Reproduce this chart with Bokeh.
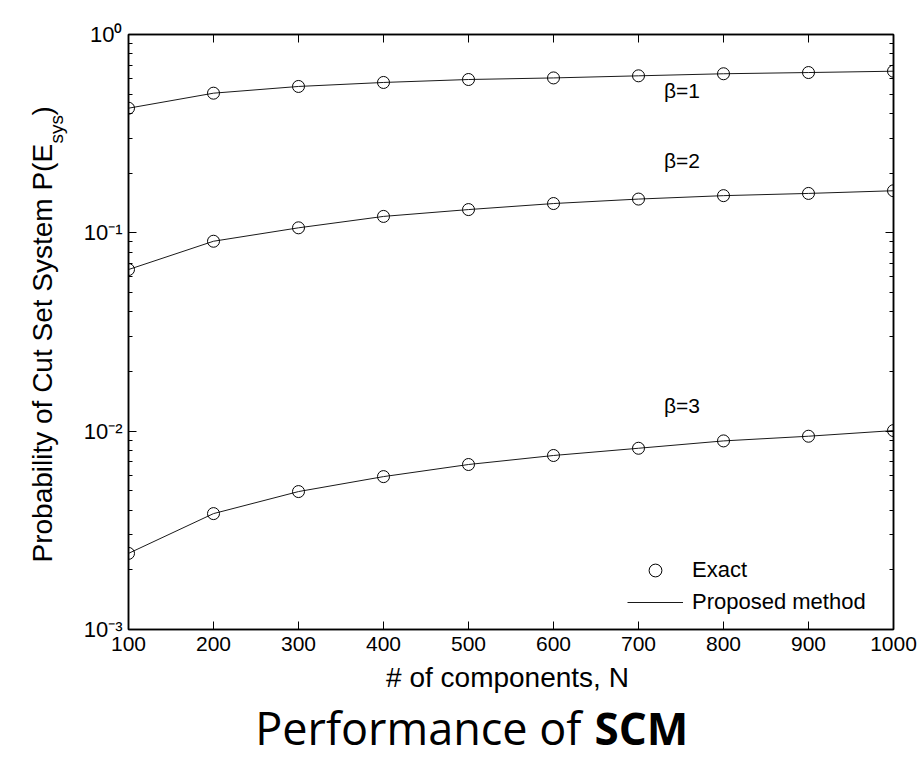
import math
from bokeh.plotting import figure
from bokeh.layouts import column, row
from bokeh.models import (LinearAxis, LogAxis, FixedTicker, CustomJSTickFormatter,
                          Label, Legend, LegendItem, ColumnDataSource, Range1d)
from bokeh.core.properties import value
from bokeh.embed import file_html
from bokeh.resources import INLINE

# ---- data ----
N = [100, 200, 300, 400, 500, 600, 700, 800, 900, 1000]
beta1 = [0.425, 0.506, 0.547, 0.573, 0.593, 0.604, 0.619, 0.634, 0.643, 0.653]
beta2 = [0.0653, 0.0907, 0.106, 0.121, 0.131, 0.1405, 0.148, 0.154, 0.158, 0.163]
beta3 = [0.00242, 0.00384, 0.00496, 0.0059, 0.00679, 0.00754, 0.0082, 0.00893, 0.00943, 0.01007]
series = [beta1, beta2, beta3]
series_labels = ["β=1", "β=2", "β=3"]
label_x = [730, 730, 730]
label_y = [0.52, 0.231, 0.0135]

x_ticks = [100, 200, 300, 400, 500, 600, 700, 800, 900, 1000]
y_ticks = [1e-3, 1e-2, 1e-1, 1.0]
y_tick_labels = ["10⁻³", "10⁻²", "10⁻¹", "10⁰"]
y_minor = [m * 10.0 ** e for e in (-3, -2, -1) for m in range(2, 10)]

x_title = "# of components, N"
y_title_main = "Probability of Cut Set System P(E"
y_title_sub = "sys"
y_title_end = ")"
title_regular = "Performance of"
title_bold = "SCM"
legend_labels = ["Exact", "Proposed method"]

FONT = "Liberation Sans"
TOTAL_W = 920
LEFT_W = 80
TOP_H = 661
CAP_H = 100
BORDER_TOP = 34
BORDER_BOTTOM = 32

# ---------------- main plot ----------------
p = figure(width=TOTAL_W - LEFT_W, height=TOP_H, x_range=(100, 1000), y_range=(1e-3, 1),
           y_axis_type="log", output_backend="svg", toolbar_location=None, title=None,
           min_border_left=128 - LEFT_W, min_border_right=27, min_border_top=BORDER_TOP,
           min_border_bottom=BORDER_BOTTOM, background_fill_color="white",
           border_fill_color="white")
p.grid.visible = False
p.outline_line_color = "black"
p.outline_line_width = 1.5

empty = CustomJSTickFormatter(code="return ''")
y_fmt = CustomJSTickFormatter(args=dict(tvals=y_ticks, tlabels=y_tick_labels), code="""
    let best = 0, bd = Infinity;
    for (let i = 0; i < tvals.length; i++) {
        const d = Math.abs(Math.log10(tick) - Math.log10(tvals[i]));
        if (d < bd) { bd = d; best = i; }
    }
    return tlabels[best];
""")

def style_axis(ax, ticker, labels=True):
    ax.ticker = ticker
    ax.axis_line_color = "black"
    ax.axis_line_width = 1.5
    ax.major_tick_in = 8
    ax.major_tick_out = 0
    ax.minor_tick_in = 4
    ax.minor_tick_out = 0
    ax.major_tick_line_color = "black"
    ax.minor_tick_line_color = "black"
    ax.major_tick_line_width = 1
    ax.minor_tick_line_width = 1
    if not labels:
        ax.formatter = empty
        ax.major_label_standoff = 0
    else:
        ax.major_label_text_font = FONT
        ax.major_label_text_font_size = "21px"
        ax.major_label_text_color = "black"
        ax.major_label_standoff = 7

x_ticker = FixedTicker(ticks=x_ticks, minor_ticks=[])
y_ticker = FixedTicker(ticks=y_ticks, minor_ticks=y_minor)

style_axis(p.xaxis[0], x_ticker, labels=True)
style_axis(p.yaxis[0], y_ticker, labels=True)
p.yaxis[0].formatter = y_fmt
p.yaxis[0].major_label_standoff = 6
p.yaxis[0].major_label_text_font_size = "22px"

top = LinearAxis()
style_axis(top, x_ticker, labels=False)
p.add_layout(top, "above")
right = LogAxis()
style_axis(right, y_ticker, labels=False)
p.add_layout(right, "right")

line_renderers = []
circle_renderers = []
for ys in series:
    src = ColumnDataSource(dict(x=N, y=ys))
    lr = p.line("x", "y", source=src, line_color="#1a1a1a", line_width=1)
    cr = p.scatter("x", "y", source=src, marker="circle", size=12,
                   fill_color=None, line_color="black", line_width=1)
    line_renderers.append(lr)
    circle_renderers.append(cr)

for lx, ly, txt in zip(label_x, label_y, series_labels):
    p.add_layout(Label(x=lx, y=ly, text=txt, text_font=FONT, text_font_size="21px",
                       text_color="black", text_align="left",
                       text_baseline="alphabetic"))

legend = Legend(items=[LegendItem(label=legend_labels[0], renderers=[circle_renderers[0]]),
                       LegendItem(label=legend_labels[1], renderers=[line_renderers[0]])],
                location=(499, 11), padding=0, margin=0, spacing=0,
                border_line_color=None, background_fill_alpha=0,
                glyph_width=56, glyph_height=32, label_height=32, label_standoff=9,
                label_text_font=FONT, label_text_font_size="22px",
                label_text_color="black")
p.add_layout(legend)

# ---------------- left strip: y title (pixel coordinates) ----------------
lf = figure(width=LEFT_W, height=TOP_H, x_range=Range1d(0, LEFT_W),
            y_range=Range1d(TOP_H, 0), x_axis_location=None, y_axis_location=None,
            output_backend="svg", toolbar_location=None, title=None,
            min_border=0, outline_line_color=None, frame_align=False,
            background_fill_color="white", border_fill_color="white")
lf.grid.visible = False

rot = math.pi / 2
lf.text(x=[42], y=[562], text=[y_title_main], angle=rot,
        text_font=value(FONT), text_font_size="28px", text_align="left",
        text_baseline="alphabetic", text_color="black")
lf.text(x=[56], y=[143], text=[y_title_sub], angle=rot,
        text_font=value(FONT), text_font_size="19px", text_align="left",
        text_baseline="alphabetic", text_color="black")
lf.text(x=[42], y=[115], text=[y_title_end], angle=rot,
        text_font=value(FONT), text_font_size="28px", text_align="left",
        text_baseline="alphabetic", text_color="black")

# ---------------- bottom strip: x title and caption ----------------
cf = figure(width=TOTAL_W, height=CAP_H, x_range=Range1d(0, TOTAL_W),
            y_range=Range1d(TOP_H + CAP_H, TOP_H), x_axis_location=None,
            y_axis_location=None, output_backend="svg", toolbar_location=None,
            title=None, min_border=0, outline_line_color=None, frame_align=False,
            background_fill_color="white", border_fill_color="white")
cf.grid.visible = False
cf.text(x=[507], y=[677], text=[x_title], text_font=value(FONT), text_font_size="28px",
        text_align="center", text_baseline="alphabetic", text_color="black")
cf.text(x=[581], y=[727], text=[title_regular], text_font=value("Open Sans"),
        text_font_size="45px", text_align="right", text_baseline="alphabetic",
        text_color="black")
cf.text(x=[594], y=[727], text=[title_bold], text_font=value("Open Sans"),
        text_font_size="44px", text_font_style="bold", text_align="left",
        text_baseline="alphabetic", text_color="black")

layout = column(row(lf, p, spacing=0), cf, spacing=0)
open("out.html", "w").write(file_html(layout, INLINE))
